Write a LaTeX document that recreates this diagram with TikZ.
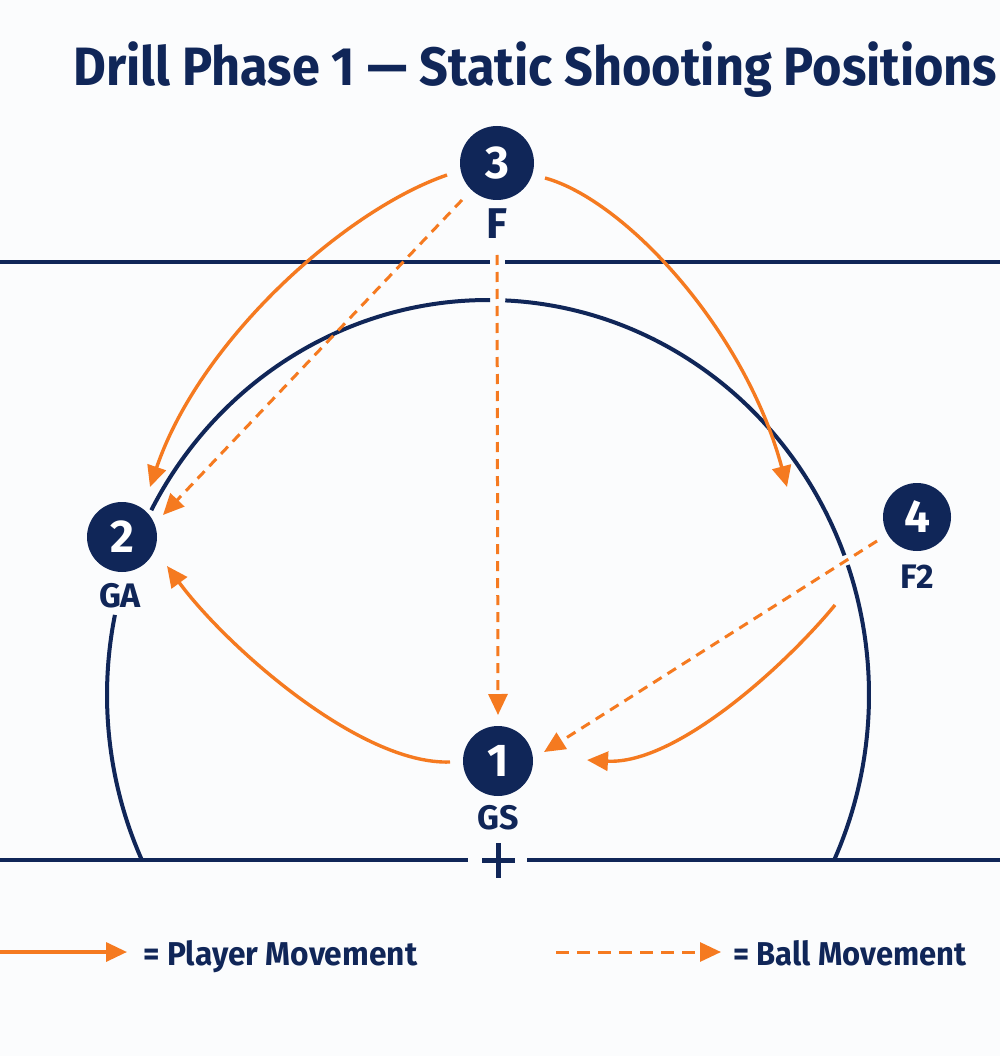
\documentclass[tikz,border=0pt]{standalone}
\usepackage{fontspec}
\setmainfont{Fira Sans}
\usetikzlibrary{arrows.meta,calc}
\definecolor{navy}{RGB}{16,38,88}
\definecolor{org}{RGB}{245,122,32}
\definecolor{bg}{RGB}{251,252,253}
\begin{document}
\begin{tikzpicture}[x=1pt,y=-1pt,
  court/.style={draw=navy,line width=4.5pt},
  player/.style={draw=org,line width=3.4pt,-{Triangle[length=21pt,width=19pt]}},
  ball/.style={draw=org,line width=3pt,dash pattern=on 10pt off 7pt,-{Triangle[length=21pt,width=19pt]}},
  posnode/.style={circle,fill=navy,text=white,minimum size=70pt,inner sep=0pt,font=\fontsize{46}{46}\selectfont\bfseries},
  lbl/.style={text=navy,font=\fontsize{34}{34}\selectfont\bfseries,inner sep=0pt},
  txt/.style={text=navy,inner sep=0pt,anchor=base west},
]
\fill[bg] (0,0) rectangle (1000,1056);
\useasboundingbox (0,0) rectangle (1000,1056);
\clip (0,0) rectangle (1000,1056);

% title
\node[txt] (title) at (73,86) {\resizebox{924pt}{\height}{\fontsize{54}{54}\selectfont\bfseries Drill Phase 1 — Static Shooting Positions}};

% court lines
\draw[court] (0,262) -- (490,262);
\draw[court] (505,262) -- (1000,262);
\draw[court] (0,860) -- (468,860);
\draw[court] (527,860) -- (1000,860);
\draw[court,line width=5pt] (482,860) -- (515,860);
\draw[court,line width=5pt] (498,843) -- (498,878);

% shooting circle
\coordinate (C) at (488,695);
\draw[court,line width=4pt] ($(C)+(155.3:381 and 395)$) arc[start angle=155.3,end angle=191.7,x radius=381,y radius=395];
\draw[court,line width=4pt] ($(C)+(207.9:381 and 395)$) arc[start angle=207.9,end angle=270.3,x radius=381,y radius=395];
\draw[court,line width=4pt] ($(C)+(272.6:381 and 395)$) arc[start angle=272.6,end angle=339.3,x radius=381,y radius=395];
\draw[court,line width=4pt] ($(C)+(340.8:381 and 395)$) arc[start angle=340.8,end angle=384.7,x radius=381,y radius=395];

% players
\node[posnode,minimum size=74pt] (n3) at (497,163) {3};
\node[posnode] (n2) at (122,537) {2};
\node[posnode,minimum size=68pt] (n4) at (917,517) {4};
\node[posnode] (n1) at (498,761) {1};

\node[lbl,font=\fontsize{43}{43}\selectfont\bfseries] (l3) at (497,224) {F};
\node[lbl] (l2) at (120,596) {GA};
\node[lbl] (l4) at (917,577) {F2};
\node[lbl] (l1) at (498,818) {GS};

% player movement
\draw[player] ($(n3)+(-50,12)$) .. controls ($(n3)+(-152,47)$) and ($(n2)+(78,-197)$) .. ($(n2)+(28,-50)$);
\coordinate (p2end) at (787,487);
\draw[player] ($(n3)+(48,15)$) .. controls ($(n3)+(128,37)$) and ($(p2end)+(-42,-157)$) .. (p2end);
\draw[player] ($(n1)+(-48,1)$) .. controls ($(n1)+(-138,4)$) and ($(n2)+(104,109)$) .. ($(n2)+(45,29)$);
\draw[player] ($(n4)+(-82,88)$) .. controls ($(n4)+(-133,150)$) and ($(n1)+(177,4)$) .. ($(n1)+(89,-1)$);

% ball movement
\draw[ball] ($(n3)+(-35,37)$) -- ($(n2)+(41,-22)$);
\draw[ball] ($(n3)+(0,92)$) -- ($(n1)+(0,-46)$);
\draw[ball] ($(n4)+(-40,24)$) -- ($(n1)+(46,-9)$);

% legend
\coordinate (lg1a) at (0,952);
\coordinate (lg1b) at (127,952);
\draw[player] (lg1a) -- (lg1b);
\node[txt] (lt1) at (143,965) {\resizebox{274pt}{\height}{\fontsize{33}{33}\selectfont\bfseries = Player Movement}};
\coordinate (lg2a) at (556,952);
\coordinate (lg2b) at (721,952);
\draw[ball,dash pattern=on 13pt off 8pt] (lg2a) -- (lg2b);
\node[txt] (lt2) at (733,965) {\resizebox{233pt}{\height}{\fontsize{33}{33}\selectfont\bfseries = Ball Movement}};
\end{tikzpicture}
\end{document}
